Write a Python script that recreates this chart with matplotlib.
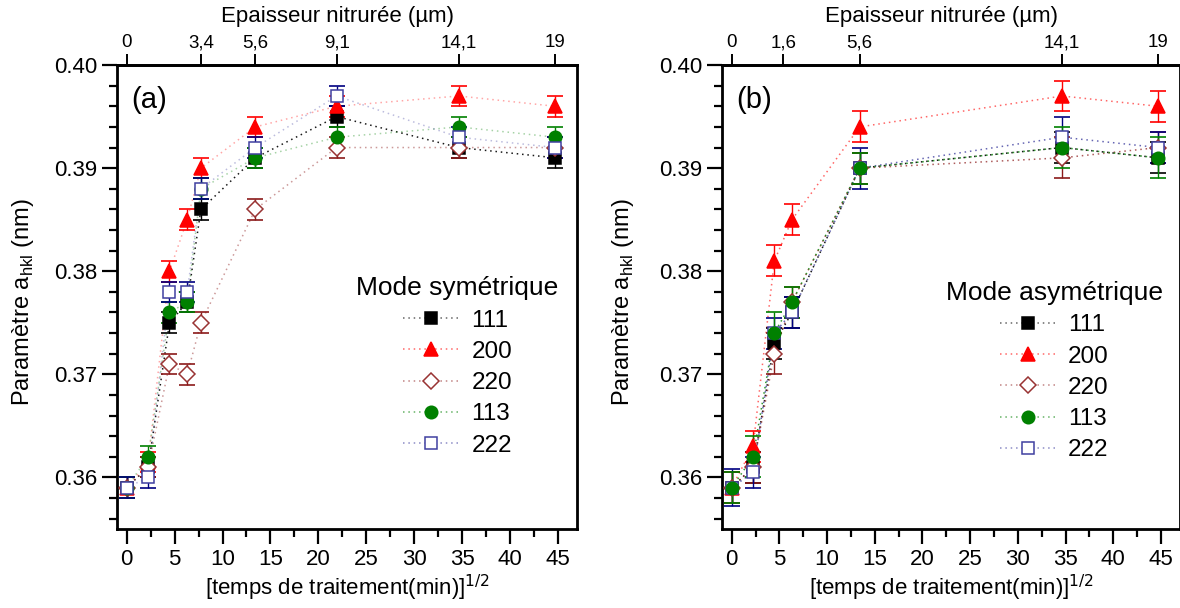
import numpy as np
import matplotlib
matplotlib.use("Agg")
import matplotlib.pyplot as plt
from matplotlib.lines import Line2D
from matplotlib.colors import to_rgba
from matplotlib.ticker import MultipleLocator, FormatStrFormatter

plt.rcParams['font.family'] = ['Liberation Sans', 'DejaVu Sans']

# sqrt(treatment time) positions
X_A = [0, 2.24, 4.47, 6.32, 7.75, 13.42, 21.91, 34.64, 44.72]
X_B = [0, 2.24, 4.47, 6.32, 13.42, 34.64, 44.72]

# top axis: nitrided thickness (um)
TOP_A_POS = [0, 7.75, 13.42, 21.91, 34.64, 44.72]
TOP_A_LAB = ["0", "3,4", "5,6", "9,1", "14,1", "19"]
TOP_B_POS = [0, 5.4, 13.42, 34.64, 44.72]
TOP_B_LAB = ["0", "1,6", "5,6", "14,1", "19"]

PLANES = ["111", "200", "220", "113", "222"]

# (a) symmetric mode
A_111 = [0.359, 0.361, 0.375, 0.377, 0.386, 0.391, 0.395, 0.392, 0.391]
A_200 = [0.359, 0.3615, 0.380, 0.385, 0.390, 0.394, 0.396, 0.397, 0.396]
A_220 = [0.359, 0.361, 0.371, 0.370, 0.375, 0.386, 0.392, 0.392, 0.392]
A_113 = [0.359, 0.362, 0.376, 0.377, 0.388, 0.391, 0.393, 0.394, 0.393]
A_222 = [0.359, 0.360, 0.378, 0.378, 0.388, 0.392, 0.397, 0.393, 0.392]
ERR_A = 0.001

# (b) asymmetric mode
B_111 = [0.359, 0.361, 0.373, 0.376, 0.390, 0.392, 0.391]
B_200 = [0.359, 0.363, 0.381, 0.385, 0.394, 0.397, 0.396]
B_220 = [0.359, 0.361, 0.372, 0.377, 0.390, 0.391, 0.392]
B_113 = [0.359, 0.362, 0.374, 0.377, 0.390, 0.392, 0.391]
B_222 = [0.359, 0.3605, 0.374, 0.376, 0.390, 0.393, 0.392]
EB_111 = [0.0015, 0.0015, 0.0015, 0.0015, 0.0015, 0.0015, 0.0015]
EB_200 = [0.0015, 0.0015, 0.0015, 0.0015, 0.0015, 0.0015, 0.0015]
EB_220 = [0.0015, 0.0015, 0.002, 0.0015, 0.0015, 0.002, 0.0015]
EB_113 = [0.0015, 0.002, 0.002, 0.0015, 0.0015, 0.002, 0.002]
EB_222 = [0.0018, 0.0015, 0.0015, 0.0015, 0.002, 0.002, 0.0015]

STY = {
    "111": dict(marker="s", mfc="black", mec="black", ms=8, c="black", ec="black"),
    "200": dict(marker="^", mfc="#FF0000", mec="#FF0000", ms=10, c="#FF0000", ec="#FF0000"),
    "220": dict(marker="D", mfc="white", mec="#993333", ms=8, c="#993333", ec="#8B1A1A"),
    "113": dict(marker="o", mfc="#008000", mec="#008000", ms=9, c="#008000", ec="#008000"),
    "222": dict(marker="s", mfc="white", mec="#4040A0", ms=8, c="#4040A0", ec="#000080"),
}
DOTS = (0, (1, 2.5))
FS = 16


def panel(ax, x, series, errs, order, line_alpha, top_pos, top_lab, tag, title, ylab_x, anchor):
    for p in order:
        s = STY[p]
        ax.errorbar(x, series[p], yerr=errs[p], fmt="none", ecolor=s["ec"], elinewidth=1,
                    capsize=6, capthick=1.2, zorder=2)
        ax.plot(x, series[p], ls=DOTS, lw=1.1, color=to_rgba(s["c"], line_alpha[p]), zorder=1)
        ax.plot(x, series[p], ls="none", marker=s["marker"], mfc=s["mfc"], mec=s["mec"],
                ms=s["ms"], mew=1.1, zorder=3)
    ax.set_xlim(-1, 47)
    ax.set_ylim(0.355, 0.40)
    ax.xaxis.set_major_locator(MultipleLocator(5))
    ax.xaxis.set_minor_locator(MultipleLocator(2.5))
    ax.yaxis.set_major_locator(MultipleLocator(0.01))
    ax.yaxis.set_minor_locator(MultipleLocator(0.002))
    ax.yaxis.set_major_formatter(FormatStrFormatter("%.2f"))
    ax.tick_params(which="both", direction="out", width=1.6, labelsize=FS, top=False, right=False)
    ax.tick_params(which="major", length=11)
    ax.tick_params(which="minor", length=6)
    for sp in ax.spines.values():
        sp.set_linewidth(2)
    ax.set_xlabel("[temps de traitement(min)]$^{1/2}$", fontsize=FS, labelpad=2)
    ax.set_ylabel("Paramètre a$_{\\mathregular{hkl}}$ (nm)", fontsize=17)
    ax.yaxis.set_label_coords(ylab_x, 0.49)
    ax.text(0.03, 0.925, tag, transform=ax.transAxes, fontsize=21, va="center", ha="left")

    top = ax.twiny()
    top.set_xlim(ax.get_xlim())
    top.set_xticks(top_pos)
    top.set_xticklabels(top_lab)
    top.tick_params(direction="out", length=8, width=1.4, labelsize=13.5, pad=2)
    top.spines["top"].set_linewidth(2)
    top.set_xlabel("Epaisseur nitrurée (µm)", fontsize=FS, labelpad=4)
    top.xaxis.set_label_coords(0.48, 1.0 + 38 / 464)
    top.xaxis.label.set_va("bottom")

    handles = [Line2D([], [], ls=DOTS, lw=1.1, color=to_rgba(STY[p]["c"], 0.6),
                      marker=STY[p]["marker"], mfc=STY[p]["mfc"], mec=STY[p]["mec"],
                      ms=STY[p]["ms"], mew=1.1) for p in PLANES]
    ax.legend(handles, PLANES, title=title, loc="center", bbox_to_anchor=anchor,
              frameon=False, fontsize=17.5, title_fontsize=19, handlelength=2.3,
              handletextpad=0.5, labelspacing=0.38, borderaxespad=0)


fig = plt.figure(figsize=(11.8, 6.08), dpi=100)
ax_a = fig.add_axes([0.0992, 0.130, 0.390, 0.763])
ax_b = fig.add_axes([0.612, 0.130, 0.388, 0.763])

ser_a = dict(zip(PLANES, [A_111, A_200, A_220, A_113, A_222]))
err_a = {p: ERR_A for p in PLANES}
alpha_a = {"111": 0.9, "200": 0.35, "220": 0.5, "113": 0.35, "222": 0.35}
panel(ax_a, X_A, ser_a, err_a, ["111", "200", "220", "113", "222"], alpha_a,
      TOP_A_POS, TOP_A_LAB, "(a)", "Mode symétrique", -0.176, (0.74, 0.35))

ser_b = dict(zip(PLANES, [B_111, B_200, B_220, B_113, B_222]))
err_b = dict(zip(PLANES, [EB_111, EB_200, EB_220, EB_113, EB_222]))
alpha_b = {"111": 0.9, "200": 0.6, "220": 0.8, "113": 0.8, "222": 0.8}
panel(ax_b, X_B, ser_b, err_b, ["111", "200", "220", "222", "113"], alpha_b,
      TOP_B_POS, TOP_B_LAB, "(b)", "Mode asymétrique", -0.188, (0.725, 0.34))

fig.savefig("out.png", dpi=100)
